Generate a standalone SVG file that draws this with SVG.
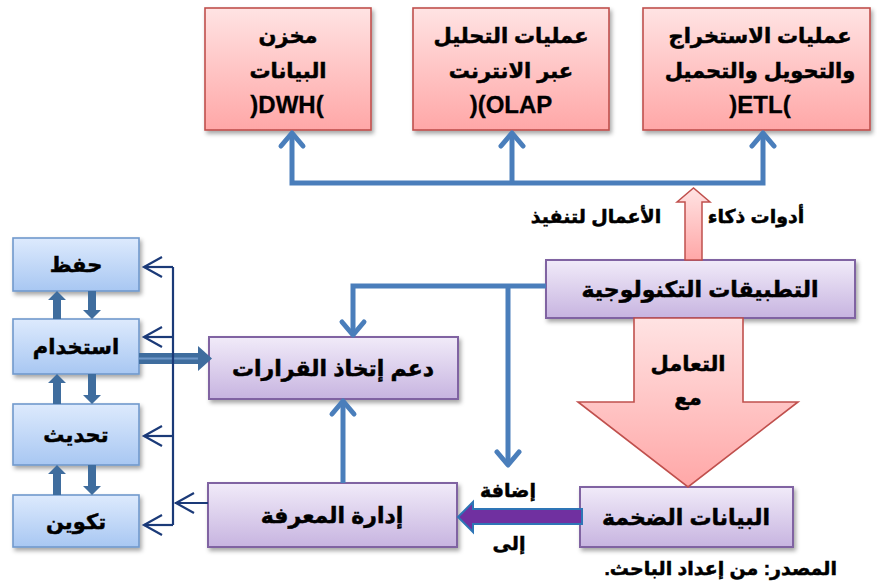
<svg xmlns="http://www.w3.org/2000/svg" width="877" height="584" viewBox="0 0 877 584">
  <defs>
    <linearGradient id="gPink" x1="0" y1="0" x2="0" y2="1">
      <stop offset="0" stop-color="#FFE3E3"/>
      <stop offset="1" stop-color="#FFA7A7"/>
    </linearGradient>
    <linearGradient id="gPurple" x1="0" y1="0" x2="0" y2="1">
      <stop offset="0" stop-color="#F1EBF9"/>
      <stop offset="1" stop-color="#C7B4E0"/>
    </linearGradient>
    <linearGradient id="gBlue" x1="0" y1="0" x2="0" y2="1">
      <stop offset="0" stop-color="#DDEAFD"/>
      <stop offset="1" stop-color="#A8C7F2"/>
    </linearGradient>
    <filter id="shadow" x="-10%" y="-10%" width="125%" height="135%">
      <feDropShadow dx="2" dy="3" stdDeviation="2" flood-color="#000" flood-opacity="0.35"/>
    </filter>
  </defs>
  <style>
    text { font-family: "Liberation Sans", "DejaVu Sans", sans-serif; font-weight: bold; fill: #000; stroke: #000; stroke-width: 0.5; text-anchor: middle; }
    .pink { fill: url(#gPink); stroke: #C0504D; stroke-width: 1.6; filter: url(#shadow); }
    .purple { fill: url(#gPurple); stroke: #8064A2; stroke-width: 2; filter: url(#shadow); }
    .blue { fill: url(#gBlue); stroke: #7199CC; stroke-width: 1.6; filter: url(#shadow); }
    .t21 { font-size: 21px; }
    .t22 { font-size: 22px; }
    .t19 { font-size: 19px; }
    .abbr { font-size: 24px; stroke-width: 0.3; }
    .link { fill: none; stroke: #4A7EBB; stroke-width: 5; stroke-linejoin: miter; }
    .head { fill: none; stroke: #4A7EBB; stroke-width: 5; stroke-linecap: round; stroke-linejoin: round; }
    .navy { fill: none; stroke: #1B3A78; stroke-width: 2.2; }
    .thick { fill: #3F6D9E; }
  </style>

  <!-- top row -->
  <g id="dwh">
    <rect class="pink" x="205" y="8" width="166" height="122"/>
    <text class="t21" x="288" y="43">مخزن</text>
    <text class="t21" x="288" y="78">البيانات</text>
    <text class="abbr" x="287" y="113">)DWH(</text>
  </g>
  <g id="olap">
    <rect class="pink" x="413" y="8" width="196" height="122"/>
    <text class="t21" x="511" y="43">عمليات التحليل</text>
    <text class="t21" x="511" y="78">عبر الانترنت</text>
    <text class="abbr" x="511" y="113">)(OLAP</text>
  </g>
  <g id="etl">
    <rect class="pink" x="643" y="8" width="227" height="122"/>
    <text class="t21" x="760" y="43">عمليات الاستخراج</text>
    <text class="t21" x="760" y="78">والتحويل والتحميل</text>
    <text class="abbr" x="760" y="113">)ETL(</text>
  </g>

  <!-- middle / right -->
  <g id="tech">
    <rect class="purple" x="546" y="260" width="309" height="58"/>
    <text class="t22" x="700" y="297">التطبيقات التكنولوجية</text>
  </g>
  <g id="decision">
    <rect class="purple" x="209" y="337" width="249" height="62"/>
    <text class="t22" x="333" y="376">دعم إتخاذ القرارات</text>
  </g>
  <g id="knowledge">
    <rect class="purple" x="208" y="483" width="249" height="64"/>
    <text class="t22" x="332" y="523">إدارة المعرفة</text>
  </g>
  <g id="bigdata">
    <rect class="purple" x="580" y="487" width="213" height="60"/>
    <text class="t22" x="686" y="525">البيانات الضخمة</text>
  </g>

  <!-- left column -->
  <g id="keep">
    <rect class="blue" x="13" y="238" width="126" height="53"/>
    <text class="t21" x="76" y="272">حفظ</text>
  </g>
  <g id="use">
    <rect class="blue" x="13" y="319" width="126" height="55"/>
    <text class="t21" x="76" y="354">استخدام</text>
  </g>
  <g id="update">
    <rect class="blue" x="13" y="404" width="126" height="61"/>
    <text class="t21" x="76" y="442">تحديث</text>
  </g>
  <g id="build">
    <rect class="blue" x="13" y="495" width="126" height="52"/>
    <text class="t21" x="76" y="529">تكوين</text>
  </g>

  <g id="connectors">
    <!-- bus to the three top boxes -->
    <polyline class="link" points="292,134 292,183 763,183 763,134"/>
    <line class="link" x1="512" y1="183" x2="512" y2="134"/>
    <polyline class="head" points="281,146 292,133 303,146"/>
    <polyline class="head" points="501,146 512,133 523,146"/>
    <polyline class="head" points="752,146 763,133 774,146"/>

    <!-- business intelligence block arrow -->
    <polygon fill="url(#gPink)" stroke="#C0504D" stroke-width="1.5" points="677,202 693.5,188 710,202 702,202 702,260 685,260 685,202"/>
    <text class="t19" x="756" y="223">أدوات ذكاء</text>
    <text class="t19" x="596" y="223">الأعمال لتنفيذ</text>

    <!-- tech applications to decision support and down -->
    <polyline class="link" points="546,286 353,286 353,333"/>
    <line class="link" x1="508" y1="286" x2="508" y2="463"/>
    <polyline class="head" points="342,322 353,335 364,322"/>
    <polyline class="head" points="497,452 508,465 519,452"/>

    <!-- knowledge management up to decision support -->
    <line class="link" x1="343" y1="483" x2="343" y2="403"/>
    <polyline class="head" points="332,414 343,401 354,414"/>

    <!-- big block arrow down to big data -->
    <polygon fill="url(#gPink)" stroke="#C0504D" stroke-width="1.6" points="634,318 743,318 743,402 798,402 688,487 578,402 634,402"/>
    <text class="t21" x="688" y="371">التعامل</text>
    <text class="t21" x="688" y="405">مع</text>

    <!-- big data to knowledge management -->
    <polygon fill="#7030A0" stroke="#2E75B6" stroke-width="2" points="458,517 473,502 473,509 582,509 582,524 473,524 473,532"/>
    <text class="t19" x="508" y="497">إضافة</text>
    <text class="t19" x="509" y="550">إلى</text>

    <!-- use to decision support -->
    <rect x="139" y="353" width="60" height="11" fill="#3F6D9E"/>
    <polygon fill="#3F6D9E" points="198,346 212,358.5 198,371"/>
    <line x1="139" y1="358.5" x2="198" y2="358.5" stroke="#6E97C8" stroke-width="2"/>

    <!-- thick arrows between left boxes -->
    <g class="thick">
      <polygon points="53,319 53,300 48,300 57,291 66,300 61,300 61,319"/>
      <polygon points="88,291 88,310 83,310 92,319 101,310 96,310 96,291"/>
      <polygon points="53,404 53,383 48,383 57,374 66,383 61,383 61,404"/>
      <polygon points="88,374 88,395 83,395 92,404 101,395 96,395 96,374"/>
      <polygon points="53,495 53,474 48,474 57,465 66,474 61,474 61,495"/>
      <polygon points="88,465 88,486 83,486 92,495 101,486 96,486 96,465"/>
    </g>

    <!-- knowledge feedback to left column -->
    <line class="navy" x1="173" y1="267" x2="173" y2="525"/>
    <polyline class="navy" points="173,267 144,267"/>
    <polyline class="navy" points="173,337 144,337"/>
    <polyline class="navy" points="173,436 144,436"/>
    <polyline class="navy" points="173,525 144,525"/>
    <polyline class="navy" points="208,503 175,503"/>
    <polyline class="navy" points="162,257 144,267 162,277"/>
    <polyline class="navy" points="162,327 144,337 162,347"/>
    <polyline class="navy" points="162,426 144,436 162,446"/>
    <polyline class="navy" points="162,515 144,525 162,535"/>
    <polyline class="navy" points="194,493 176,503 194,513"/>
  </g>

  <text class="t19" x="837" y="575" direction="rtl" style="text-anchor:start">المصدر: من إعداد الباحث.</text>
</svg>
